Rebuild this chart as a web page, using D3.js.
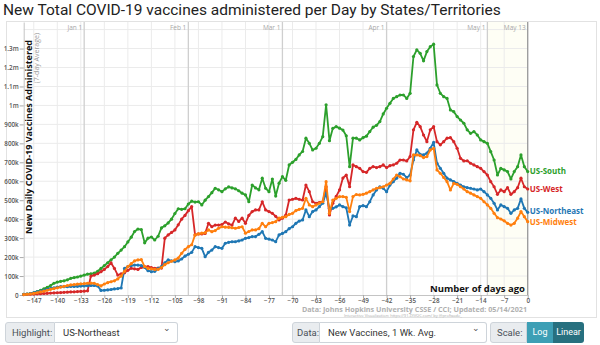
<!DOCTYPE html>
<html>
<head>
<meta charset="utf-8">
<script src="https://cdn.jsdelivr.net/npm/d3@7"></script>
<style>
  body { margin: 0; background: #fff; font-family: Roboto, "Open Sans", sans-serif; }
  #chart { position: absolute; left: 0; top: 0; }
  .grp { position: absolute; top: 322px; height: 21px; display: flex; font-size: 9.5px; color: #495057; }
  .lbl { background: #e9ecef; border: 1px solid #ced4da; border-radius: 3px 0 0 3px; padding: 0 6px; line-height: 19px; box-sizing: border-box; height: 21px; }
  .sel { background: #fff; border: 1px solid #ced4da; border-left: none; border-radius: 0 3px 3px 0; padding: 0 8px; line-height: 19px; box-sizing: border-box; height: 21px; position: relative; color: #333; }
  .sel:after { content: "\2304"; position: absolute; right: 6px; top: -4px; font-size: 9px; color: #555; }
  .btn { color: #fff; line-height: 21px; height: 21px; padding: 0; text-align: center; box-sizing: border-box; font-size: 9px; }
</style>
</head>
<body>
<svg id="chart" width="600" height="320"></svg>

<div class="grp" style="left:5px;">
  <div class="lbl" style="width:50px;">Highlight:</div>
  <div class="sel" style="width:123px;">US-Northeast</div>
</div>
<div class="grp" style="left:292px;">
  <div class="lbl" style="width:28px;padding:0 4px;">Data:</div>
  <div class="sel" style="width:167px;">New Vaccines, 1 Wk. Avg.</div>
</div>
<div class="grp" style="left:490px;">
  <div class="lbl" style="width:37px;">Scale:</div>
  <div class="btn" style="background:#3d9fb5;width:26px;">Log</div>
  <div class="btn" style="background:#27707f;width:31px;border-radius:0 3px 3px 0;">Linear</div>
</div>

<script>
// days ago, -150 .. 0 (one point per day)
var firstDay = -150;

// 7-day average of new vaccine doses, in thousands
var southVals = [
  3,5,8,12,18,25,32,40,50,62,
  68,72,75,80,88,92,95,100,105,110,
  112,115,125,140,155,170,185,200,220,237,
  255,280,305,335,348,345,275,300,306,290,
  310,354,365,380,400,430,455,452,455,480,
  495,490,492,475,500,519,540,563,555,545,
  560,570,565,560,550,537,528,492,580,565,
  555,616,563,545,612,522,590,624,605,686,
  700,715,739,757,827,800,765,774,800,835,
  1003,814,879,888,880,870,840,677,827,827,
  818,830,838,862,885,895,915,955,985,1011,
  1037,1046,1055,1055,1037,1064,1258,1293,1275,1235,
  1284,1310,1323,1108,1064,1046,1037,976,967,941,
  923,906,871,853,862,844,818,809,800,756,
  712,633,668,660,651,612,651,677,739,677,
  651
];
var westVals = [
  2,3,4,5,6,7,8,9,10,11,
  12,13,14,15,16,17,18,19,20,22,
  100,105,112,123,135,150,169,140,105,112,
  117,130,141,138,135,145,149,150,145,140,
  142,142,300,317,330,343,370,400,420,445,
  466,317,322,322,325,378,360,369,369,372,
  385,375,369,405,388,405,378,420,440,449,
  449,492,449,440,431,415,396,405,422,501,
  505,510,505,501,580,545,492,484,488,492,
  571,422,484,520,554,617,633,571,686,677,
  668,651,647,668,677,672,677,686,672,682,
  686,695,712,712,707,730,871,911,888,844,
  809,871,888,809,792,809,827,830,809,774,
  721,707,708,695,686,677,668,651,633,598,
  571,531,554,545,566,531,545,566,616,571,
  559
];
var northeastVals = [
  3,5,8,12,16,20,25,30,35,38,
  42,44,44,44,45,45,46,47,48,49,
  50,50,48,24,25,27,29,32,34,37,
  140,150,155,158,158,155,145,128,123,125,
  140,150,170,185,180,176,180,190,205,215,
  225,255,250,246,202,225,237,255,250,246,
  273,278,281,281,285,290,299,303,308,308,
  320,334,299,295,290,281,317,325,334,350,
  360,378,390,396,449,413,440,449,466,484,
  537,457,457,465,475,466,460,369,417,413,
  466,471,466,492,528,554,571,563,545,580,
  598,616,642,637,619,633,712,765,742,739,
  748,774,805,695,668,642,616,607,598,589,
  580,571,566,563,559,554,559,545,528,510,
  484,449,475,466,457,431,449,457,507,457,
  436
];
var midwestVals = [
  2,4,6,9,12,16,20,25,30,34,
  38,42,46,50,53,55,57,59,60,62,
  63,62,55,48,58,65,70,75,85,100,
  125,150,165,180,185,187,150,140,138,135,
  135,145,160,170,178,185,195,220,240,255,
  265,317,322,326,329,343,334,340,352,360,
  358,357,355,352,356,360,326,335,343,343,
  350,378,360,378,382,387,405,410,413,425,
  431,445,452,457,510,475,466,475,484,492,
  598,431,501,510,519,519,515,440,519,530,
  528,531,537,545,554,563,566,571,580,589,
  612,633,624,612,607,602,739,739,735,725,
  730,765,774,660,642,620,598,554,589,584,
  571,559,545,537,528,519,510,492,475,457,
  431,408,401,391,378,369,378,405,440,413,
  387
];

var seriesNames = ['US-South', 'US-West', 'US-Northeast', 'US-Midwest'];
var seriesColors = ['#2ca02c', '#d62728', '#1f77b4', '#ff7f0e'];

var xTicks = [-147,-140,-133,-126,-119,-112,-105,-98,-91,-84,-77,-70,-63,-56,-49,-42,-35,-28,-21,-14,-7,0];
var yTicks = [0,100000,200000,300000,400000,500000,600000,700000,800000,900000,1000000,1100000,1200000,1300000];
var monthNames = ['Jan 1', 'Feb 1', 'Mar 1', 'Apr 1', 'May 1', 'May 13'];
var monthDays = [-132, -101, -73, -42, -12, 0];

var svg = d3.select('#chart');

var x = d3.scaleLinear().domain([-150, 0]).range([23.7, 527.7]);
var y = d3.scaleLinear().domain([0, 1440000]).range([295, 22]);

// title
svg.append('text')
  .attr('x', 3).attr('y', 15)
  .attr('font-family', 'Roboto, sans-serif')
  .attr('font-size', 15.5)
  .attr('fill', '#222')
  .text('New Total COVID-19 vaccines administered per Day by States/Territories');

// chart box
svg.append('rect')
  .attr('x', 6.5).attr('y', 21.5)
  .attr('width', 590).attr('height', 296)
  .attr('fill', '#fff')
  .attr('stroke', '#e2e2e2');

// last 12 days shaded
svg.append('rect')
  .attr('x', x(-12)).attr('y', y.range()[1])
  .attr('width', x(0) - x(-12))
  .attr('height', y(0) - y.range()[1])
  .attr('fill', '#fefef5');

// grid
svg.append('g').selectAll('line')
  .data(yTicks.slice(1).concat([1400000]))
  .enter().append('line')
  .attr('x1', x(-150)).attr('x2', x(0))
  .attr('y1', function(d) { return y(d); })
  .attr('y2', function(d) { return y(d); })
  .attr('stroke', '#ebebeb');

svg.append('g').selectAll('line')
  .data(xTicks)
  .enter().append('line')
  .attr('x1', function(d) { return x(d); })
  .attr('x2', function(d) { return x(d); })
  .attr('y1', y.range()[1]).attr('y2', y(0))
  .attr('stroke', '#ebebeb');

// month markers
var months = svg.append('g').selectAll('g')
  .data(monthDays)
  .enter().append('g');

months.append('line')
  .attr('x1', function(d) { return x(d); })
  .attr('x2', function(d) { return x(d); })
  .attr('y1', y.range()[1]).attr('y2', y(0))
  .attr('stroke', function(d) { return d === 0 ? '#9a9a9a' : '#cfcfcf'; })
  .attr('stroke-width', 1.3);

months.append('text')
  .attr('x', function(d) { return x(d) - 2; })
  .attr('y', 30)
  .attr('text-anchor', 'end')
  .attr('font-family', '"Open Sans", sans-serif')
  .attr('font-size', 6.5)
  .attr('fill', '#a8a8a8')
  .text(function(d, i) { return monthNames[i]; });

// axes
function fmtY(v) {
  if (v === 0) return '0';
  if (v >= 1000000) return (v / 1000000) + 'm';
  return (v / 1000) + 'k';
}

var yAxis = svg.append('g')
  .attr('transform', 'translate(' + x(-150) + ',0)')
  .call(d3.axisLeft(y).tickValues(yTicks).tickFormat(fmtY).tickSize(4).tickSizeOuter(0));

var xAxis = svg.append('g')
  .attr('transform', 'translate(0,' + y(0) + ')')
  .call(d3.axisBottom(x).tickValues(xTicks).tickSize(3).tickSizeOuter(0));

[yAxis, xAxis].forEach(function(ax) {
  ax.select('.domain').attr('stroke', '#c4c4c4');
  ax.selectAll('.tick line').attr('stroke', '#aaa');
  ax.selectAll('.tick text')
    .attr('font-family', '"Open Sans", sans-serif')
    .attr('font-size', 6.3)
    .attr('font-weight', 600)
    .attr('fill', '#555');
});
yAxis.selectAll('.tick text').attr('x', -5);
xAxis.selectAll('.tick text').attr('y', 4);

// y axis title
svg.append('text')
  .attr('transform', 'translate(32,40) rotate(-90)')
  .attr('text-anchor', 'end')
  .attr('font-family', '"Open Sans", sans-serif')
  .attr('font-size', 9)
  .attr('font-weight', 'bold')
  .attr('fill', '#111')
  .text('New Daily COVID-19 Vaccines Administered');

svg.append('text')
  .attr('transform', 'translate(39,33) rotate(-90)')
  .attr('text-anchor', 'end')
  .attr('font-family', '"Open Sans", sans-serif')
  .attr('font-size', 7)
  .attr('fill', '#999')
  .text('(7-day Average)');

// series
var allVals = [southVals, westVals, northeastVals, midwestVals];
var series = allVals.map(function(vals, k) {
  return {
    name: seriesNames[k],
    color: seriesColors[k],
    points: vals.map(function(v, i) { return { day: firstDay + i, v: v * 1000 }; })
  };
});

var line = d3.line()
  .x(function(d) { return x(d.day); })
  .y(function(d) { return y(d.v); });

var sg = svg.append('g').selectAll('g')
  .data(series)
  .enter().append('g');

sg.append('path')
  .attr('d', function(d) { return line(d.points); })
  .attr('fill', 'none')
  .attr('stroke', function(d) { return d.color; })
  .attr('stroke-width', 1.8)
  .attr('stroke-linejoin', 'round');

sg.selectAll('circle')
  .data(function(d) { return d.points.map(function(p) { return { p: p, c: d.color }; }); })
  .enter().append('circle')
  .attr('cx', function(d) { return x(d.p.day); })
  .attr('cy', function(d) { return y(d.p.v); })
  .attr('r', 1.6)
  .attr('fill', function(d) { return d.c; });

// end labels, pushed apart a little so they don't collide
var labelY = series.map(function(s) { return y(s.points[s.points.length - 1].v); });
var order = d3.range(series.length).sort(function(a, b) { return labelY[a] - labelY[b]; });
for (var k = 1; k < order.length; k++) {
  var prev = labelY[order[k - 1]], cur = labelY[order[k]];
  if (cur - prev < 11) {
    var mid = (cur + prev) / 2;
    labelY[order[k - 1]] = mid - 5.5;
    labelY[order[k]] = mid + 5.5;
  }
}

sg.append('text')
  .attr('x', x(0) + 2)
  .attr('y', function(d, i) { return labelY[i]; })
  .attr('dy', '0.35em')
  .attr('font-family', '"Open Sans", sans-serif')
  .attr('font-size', 8)
  .attr('font-weight', 'bold')
  .attr('fill', function(d) { return d.color; })
  .text(function(d) { return d.name; });

// notes
svg.append('text')
  .attr('x', 525).attr('y', 292)
  .attr('text-anchor', 'end')
  .attr('font-family', '"Open Sans", sans-serif')
  .attr('font-size', 9.5)
  .attr('font-weight', 'bold')
  .attr('fill', '#111')
  .text('Number of days ago');

svg.append('text')
  .attr('x', 527).attr('y', 312)
  .attr('text-anchor', 'end')
  .attr('font-family', '"Open Sans", sans-serif')
  .attr('font-size', 7.2)
  .attr('font-weight', 'bold')
  .attr('fill', '#b0b0b0')
  .text('Data: Johns Hopkins University CSSE / CCI; Updated: 05/14/2021');

svg.append('text')
  .attr('x', 462).attr('y', 317)
  .attr('text-anchor', 'end')
  .attr('font-family', '"Open Sans", sans-serif')
  .attr('font-size', 4)
  .attr('fill', '#aaa')
  .text('Interactive Visualization: https://91-DIVOC.com/ by @profwade_');
</script>
</body>
</html>
